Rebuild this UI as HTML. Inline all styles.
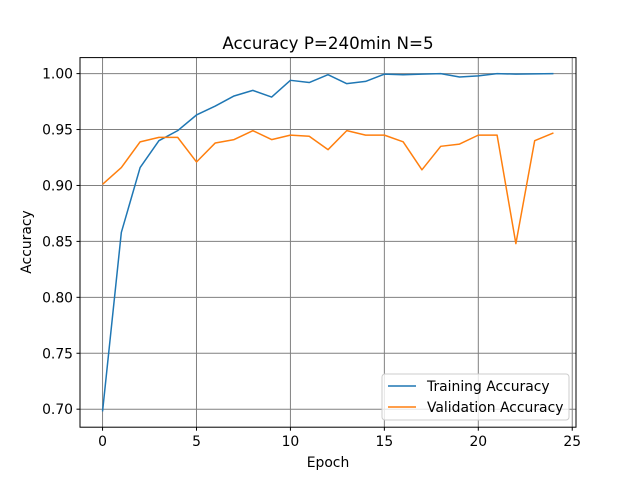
<!DOCTYPE html>
<html><head><meta charset="utf-8"><style>
body{margin:0;background:#fff;}
svg text{font-family:"DejaVu Sans","Liberation Sans",sans-serif;}
</style></head><body>
<svg id="chart" width="640" height="480" xmlns="http://www.w3.org/2000/svg">
<rect width="640" height="480" fill="#fff"/>
<text x="328" y="49" font-size="16.7" text-anchor="middle">Accuracy P=240min N=5</text>
<g id="grid"></g><g id="series"></g><g id="ticks"></g>
<rect x="80" y="57.6" width="496" height="369.6" fill="none" stroke="#000" stroke-width="1"/>
<text x="328" y="467" font-size="13.9" text-anchor="middle">Epoch</text>
<text x="31" y="242" font-size="13.9" text-anchor="middle" transform="rotate(-90 31 242)">Accuracy</text>
<g>
<rect x="382" y="374" width="187" height="46" rx="3" fill="#fff" fill-opacity="0.8" stroke="#ccc"/>
<line x1="388" y1="386" x2="416" y2="386" stroke="#1f77b4" stroke-width="1.5"/>
<text x="427" y="391" font-size="13.9">Training Accuracy</text>
<line x1="388" y1="407" x2="416" y2="407" stroke="#ff7f0e" stroke-width="1.5"/>
<text x="427" y="412" font-size="13.9">Validation Accuracy</text>
</g>
</svg>
<script>
const epochs=[0,1,2,3,4,5,6,7,8,9,10,11,12,13,14,15,16,17,18,19,20,21,22,23,24];
const trainAcc=[0.698,0.858,0.916,0.940,0.949,0.963,0.971,0.980,0.985,0.979,0.994,0.992,0.999,0.991,0.993,0.9995,0.999,0.9995,1.0,0.997,0.998,1.0,0.9995,0.9998,1.0];
const valAcc=[0.901,0.916,0.939,0.943,0.943,0.921,0.938,0.941,0.949,0.941,0.945,0.944,0.932,0.949,0.945,0.945,0.939,0.914,0.935,0.937,0.945,0.945,0.848,0.940,0.947];
const xTicks=[0,5,10,15,20,25];
const yTicks=[0.70,0.75,0.80,0.85,0.90,0.95,1.00];
const NS="http://www.w3.org/2000/svg";
const L=80,R=576,T=57.6,B=427.2;
const xmin=-1.2,xmax=25.2,ymin=0.6839,ymax=1.0143;
function sx(v){return L+(v-xmin)/(xmax-xmin)*(R-L);}
function sy(v){return B-(v-ymin)/(ymax-ymin)*(B-T);}
function mk(tag,attrs,parent){const e=document.createElementNS(NS,tag);for(const k in attrs)e.setAttribute(k,attrs[k]);parent.appendChild(e);return e;}
const grid=document.getElementById('grid'),ticks=document.getElementById('ticks'),series=document.getElementById('series');
xTicks.forEach(t=>{const x=sx(t);
 const g=mk('line',{x1:x,x2:x,y1:T,y2:B,stroke:'#808080','stroke-width':1},grid);
 
 
 mk('line',{x1:x,x2:x,y1:B,y2:B+3.5,stroke:'#000'},ticks);
 const tx=mk('text',{x:x,y:B+19,'font-size':13.9,'text-anchor':'middle'},ticks);tx.textContent=t;
 
 
});
yTicks.forEach(t=>{const y=sy(t);
 const g=mk('line',{x1:L,x2:R,y1:y,y2:y,stroke:'#808080','stroke-width':1},grid);
 
 
 mk('line',{x1:L-3.5,x2:L,y1:y,y2:y,stroke:'#000'},ticks);
 const tx=mk('text',{x:L-7,y:y+5,'font-size':13.9,'text-anchor':'end'},ticks);tx.textContent=t.toFixed(2);
 
 
});
function line(vals,color,name){
 const p=mk('polyline',{points:epochs.map((e,i)=>sx(e)+','+sy(vals[i])).join(' '),fill:'none',stroke:color,'stroke-width':1.5,'stroke-linejoin':'round'},series);
 
 
}
line(trainAcc,'#1f77b4','training-accuracy-line');
line(valAcc,'#ff7f0e','validation-accuracy-line');
</script>
</body></html>
